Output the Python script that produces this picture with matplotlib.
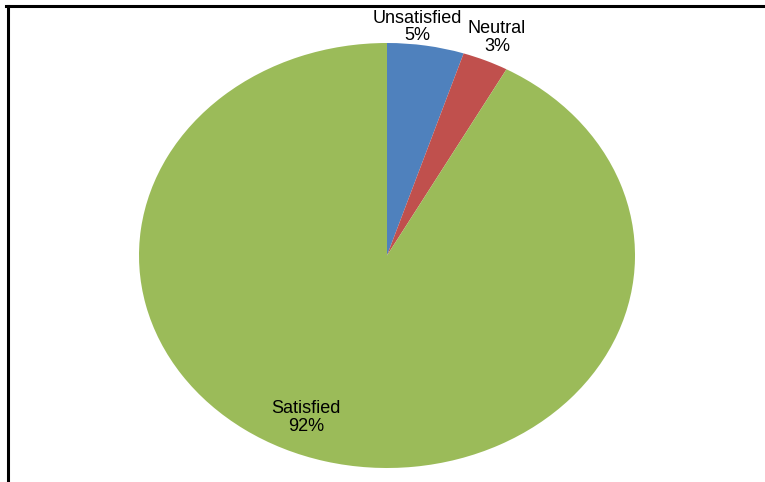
import numpy as np
import matplotlib
matplotlib.use("Agg")
import matplotlib.pyplot as plt
from matplotlib.lines import Line2D

categories = ["Unsatisfied", "Neutral", "Satisfied"]
percentages = [5, 3, 92]
colors = ["#4F81BD", "#C0504D", "#9BBB59"]

W, H = 765, 482
fig = plt.figure(figsize=(W / 100, H / 100), dpi=100)
fig.patch.set_facecolor("white")

# elliptical pie: axes box equals the ellipse bounding box
left, right, top, bottom = 139, 635, 43, 468
ax = fig.add_axes([left / W, 1 - bottom / H, (right - left) / W, (bottom - top) / H])

wedges, _ = ax.pie(percentages, colors=colors, startangle=90, counterclock=False,
                   radius=1.0, center=(0, 0), frame=False,
                   wedgeprops=dict(linewidth=0, antialiased=True))
ax.set_aspect("auto")
ax.set_xlim(-1, 1)
ax.set_ylim(-1, 1)
ax.axis("off")

# label placement: radius and angular shift (degrees) relative to the wedge middle
label_r = [1.082, 1.118, 0.829]
label_shift = [-2.6, 0, 8.8]
for w, name, pct, r, sh in zip(wedges, categories, percentages, label_r, label_shift):
    mid = np.deg2rad((w.theta1 + w.theta2) / 2 - sh)
    x, y = r * np.cos(mid), r * np.sin(mid)
    ax.text(x, y, f"{name}\n{pct}%", ha="center", va="center",
            fontsize=13, family="Liberation Sans", color="black",
            linespacing=1.05)

# outer frame edges
fig.add_artist(Line2D([7.5 / W, 7.5 / W], [0, 1 - 6 / H], transform=fig.transFigure,
                      color="black", linewidth=2.2))
fig.add_artist(Line2D([6.5 / W, 1], [1 - 6 / H, 1 - 6 / H], transform=fig.transFigure,
                      color="black", linewidth=2.2))

fig.savefig("out.png", dpi=100, facecolor="white")
